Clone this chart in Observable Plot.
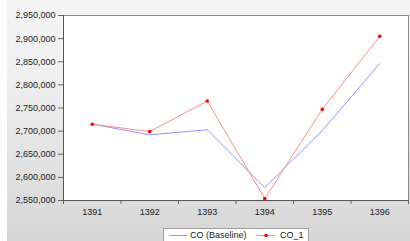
<!DOCTYPE html>
<html>
<head>
<meta charset="utf-8">
<script src="https://cdn.jsdelivr.net/npm/d3@7"></script>
<script src="https://cdn.jsdelivr.net/npm/@observablehq/plot@0.6"></script>
<style>
  html, body { margin: 0; padding: 0; background: #ffffff; }
  #wrap { position: relative; width: 410px; height: 241px; overflow: hidden; font-family: "Liberation Sans", Arial, sans-serif; }
  #bg { position: absolute; left: 7px; top: 0; width: 403px; height: 241px; background: linear-gradient(#f4f4f4, #f0f0f0 30%, #d6d6d6); }
  #chart { position: absolute; left: 0; top: 0; }
  #legend { position: absolute; left: 163px; top: 228px; width: 146px; height: 16px; background: #fff; border: 1px solid #a0a0a0; box-sizing: border-box; font-size: 9px; color: #222; }
  #legend .item { position: absolute; top: 1px; white-space: nowrap; }
  #legend svg { position: absolute; }
</style>
</head>
<body>
<div id="wrap">
  <div id="bg"></div>
  <div id="chart"></div>
  <div id="legend"></div>
</div>
<script>
const years = [1391, 1392, 1393, 1394, 1395, 1396];
const baseline = [2715000, 2692000, 2703000, 2578000, 2701000, 2846000];
const co1 = [2715000, 2699000, 2765000, 2554000, 2747000, 2905000];
const yTicks = [2550000, 2600000, 2650000, 2700000, 2750000, 2800000, 2850000, 2900000, 2950000];
const seriesNames = ["CO (Baseline)", "CO_1"];

const rows = years.map((y, i) => ({year: y, base: baseline[i], co1: co1[i]}));
const boundaries = years.map(y => y - 0.5).concat([years[years.length - 1] + 0.5]);
const fmt = d3.format(",");

const plot = Plot.plot({
  width: 410,
  height: 228,
  marginLeft: 63,
  marginRight: 2,
  marginTop: 15,
  marginBottom: 28,
  style: {background: "transparent", fontFamily: "'Liberation Sans', Arial, sans-serif", fontSize: "9px", color: "#222"},
  x: {type: "linear", domain: [years[0] - 0.5, years[years.length - 1] + 0.5]},
  y: {domain: [yTicks[0], yTicks[yTicks.length - 1]]},
  marks: [
    Plot.frame({fill: "#ffffff", stroke: "#8a8a8a"}),
    Plot.axisY({ticks: yTicks, tickFormat: fmt, tickSize: 5, tickPadding: 3, stroke: "#666", label: null}),
    Plot.axisX({ticks: boundaries, tickFormat: () => "", tickSize: 4, stroke: "#666", label: null}),
    Plot.axisX({ticks: years, tickFormat: d => String(d), tickSize: 0, tickPadding: 8, label: null}),
    Plot.ruleX([years[0] - 0.5], {stroke: "#555"}),
    Plot.ruleY([yTicks[0]], {stroke: "#555"}),
    Plot.line(rows, {x: "year", y: "base", stroke: "#9595ff", strokeWidth: 1}),
    Plot.line(rows, {x: "year", y: "co1", stroke: "#ff8c8c", strokeWidth: 1}),
    Plot.dot(rows, {x: "year", y: "co1", r: 1.8, fill: "#ff0000", stroke: "none"})
  ]
});
document.getElementById("chart").appendChild(plot);

const leg = document.getElementById("legend");
leg.innerHTML = `
  <svg style="left:5px;top:0" width="20" height="14"><line x1="0" x2="18" y1="6.5" y2="6.5" stroke="#9595ff" stroke-width="1"/></svg>
  <span class="item" style="left:26px">${seriesNames[0]}</span>
  <svg style="left:93px;top:0" width="20" height="14"><line x1="0" x2="18" y1="6.5" y2="6.5" stroke="#ff8c8c" stroke-width="1"/><circle cx="9" cy="6.5" r="1.8" fill="#ff0000"/></svg>
  <span class="item" style="left:116px">${seriesNames[1]}</span>`;
</script>
</body>
</html>
